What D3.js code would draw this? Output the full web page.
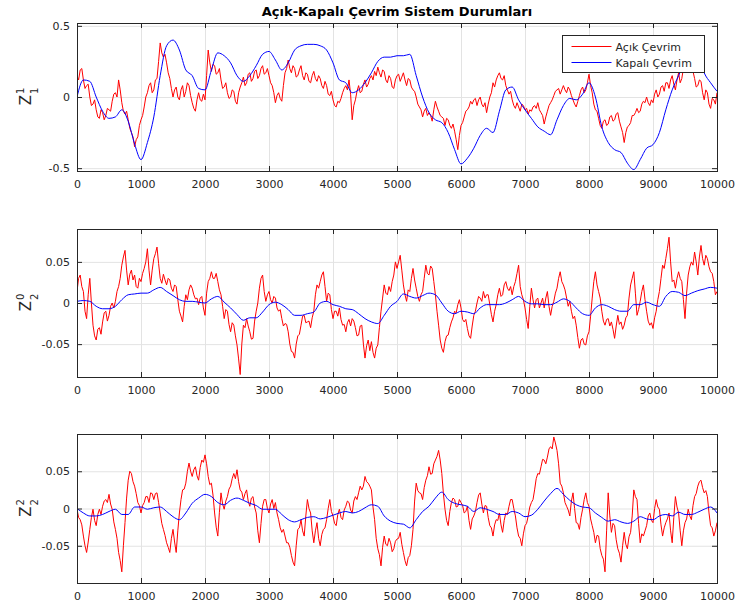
<!DOCTYPE html>
<html>
<head>
<meta charset="utf-8">
<script src="https://cdn.jsdelivr.net/npm/d3@7"></script>
<style>
  body { margin: 0; background: #fff; }
  svg text { font-family: "DejaVu Sans", sans-serif; fill: #262626; }
</style>
</head>
<body>
<div id="chart"></div>
<script>
// open loop: samples every 50 steps, plus the in-between readings (at +25)
const openStep = 50;
const closedStep = 100;

// Z_1^1
const z1Open = [
  0.15, 0.19, 0.12, 0.08, 0.0, -0.05, -0.09, -0.15, -0.11, -0.13,
  -0.09, -0.03, 0.03, 0.12, -0.04, -0.12, -0.16, -0.25, -0.35, -0.28,
  -0.16, -0.07, 0.03, 0.1, 0.05, 0.13, 0.38, 0.28, 0.24, 0.13,
  0.0, 0.07, -0.02, 0.08, 0.04, 0.08, -0.04, -0.1, 0.03, -0.03,
  -0.02, 0.33, 0.18, 0.22, 0.17, 0.12, 0.07, 0.03, 0.0, 0.04,
  -0.05, 0.07, 0.14, 0.1, 0.17, 0.13, 0.19, 0.15, 0.22, 0.17,
  0.15, 0.08, -0.04, 0.03, -0.03, 0.17, 0.26, 0.17, 0.2, 0.15,
  0.22, 0.12, 0.16, 0.1, 0.18, 0.11, 0.13, 0.06, 0.08, 0.01,
  -0.02, -0.07, -0.04, 0.03, 0.08, 0.12, -0.16, -0.02, 0.08, 0.04,
  0.12, 0.09, 0.15, 0.18, 0.21, 0.14, 0.18, 0.1, 0.13, 0.06,
  0.15, 0.11, 0.17, 0.08, 0.12, 0.05, 0.0, -0.07, -0.14, -0.08,
  -0.11, -0.17, -0.03, -0.1, -0.14, -0.2, -0.16, -0.22, -0.24, -0.37,
  -0.2, -0.14, -0.09, -0.03, -0.02, -0.06, 0.0, -0.07, -0.11, 0.0,
  0.1, 0.12, 0.17, 0.12, 0.08, 0.02, -0.02, -0.08, -0.07, -0.05,
  -0.09, -0.12, -0.1, -0.06, -0.04, -0.11, -0.19, -0.1, -0.04, 0.01,
  0.05, 0.02, 0.08, 0.03, 0.05, -0.02, -0.07, 0.01, 0.07, 0.05,
  0.16, 0.03, -0.09, -0.15, -0.22, -0.16, -0.19, -0.13, -0.16, -0.11,
  -0.21, -0.32, -0.21, -0.18, -0.13, -0.08, -0.1, -0.03, 0.0, -0.06,
  -0.04, 0.05, 0.02, 0.08, 0.1, 0.06, 0.15, 0.05, 0.17, 0.13,
  0.24, 0.3, 0.19, 0.13, 0.08, 0.11, -0.02, 0.03, -0.08, -0.02,
  0.03
];
const z1OpenMid = [
  0.12, 0.2, 0.06, 0.09, -0.06, -0.02, -0.14, -0.09, -0.16, -0.08,
  -0.1, 0.02, 0.0, 0.05, -0.1, -0.1, -0.22, -0.28, -0.3, -0.2,
  -0.13, 0.0, 0.08, 0.03, 0.12, 0.25, 0.31, 0.3, 0.17, 0.06,
  0.05, 0.0, 0.05, 0.0, 0.1, 0.01, -0.08, -0.02, -0.02, 0.02,
  0.15, 0.24, 0.23, 0.16, 0.2, 0.06, 0.1, -0.01, 0.05, -0.03,
  0.03, 0.1, 0.08, 0.16, 0.11, 0.18, 0.13, 0.2, 0.16, 0.2,
  0.1, 0.03, 0.01, -0.01, 0.08, 0.2, 0.2, 0.22, 0.14, 0.19,
  0.15, 0.17, 0.11, 0.15, 0.13, 0.15, 0.08, 0.11, 0.02, 0.04,
  -0.06, -0.03, -0.01, 0.06, 0.05, 0.02, -0.06, 0.04, 0.03, 0.09,
  0.07, 0.13, 0.12, 0.15, 0.17, 0.19, 0.12, 0.15, 0.07, 0.12,
  0.16, 0.14, 0.12, 0.13, 0.07, 0.04, -0.05, -0.09, -0.1, -0.13,
  -0.13, -0.09, -0.07, -0.13, -0.15, -0.15, -0.2, -0.19, -0.3, -0.27,
  -0.18, -0.1, -0.07, -0.05, -0.01, -0.02, -0.05, -0.04, -0.05, 0.03,
  0.07, 0.15, 0.13, 0.15, 0.05, 0.04, -0.06, -0.04, -0.1, -0.06,
  -0.08, -0.09, -0.07, -0.08, -0.09, -0.13, -0.14, -0.06, -0.02, 0.04,
  0.06, 0.05, 0.05, 0.07, 0.01, -0.05, -0.03, 0.05, 0.03, 0.1,
  0.08, -0.05, -0.1, -0.2, -0.17, -0.2, -0.14, -0.17, -0.12, -0.17,
  -0.25, -0.25, -0.2, -0.13, -0.11, -0.11, -0.05, -0.04, -0.04, -0.02,
  0.02, 0.0, 0.07, 0.04, 0.1, 0.12, 0.09, 0.12, 0.1, 0.2,
  0.27, 0.23, 0.18, 0.07, 0.12, 0.03, 0.05, -0.05, -0.01, -0.05
];
const z1Closed = [
  0.0, 0.12, 0.11, 0.0, -0.1, -0.15, -0.14, -0.09, -0.17, -0.33,
  -0.44, -0.32, -0.14, 0.15, 0.36, 0.4, 0.33, 0.19, 0.15, 0.06,
  0.05, 0.19, 0.31, 0.29, 0.24, 0.15, 0.11, 0.15, 0.22, 0.3,
  0.32, 0.26, 0.19, 0.24, 0.33, 0.36, 0.37, 0.37, 0.36, 0.33,
  0.24, 0.12, 0.1, 0.03, 0.05, 0.1, 0.17, 0.25, 0.28, 0.28,
  0.29, 0.29, 0.3, 0.15, 0.0, -0.11, -0.16, -0.18, -0.25, -0.37,
  -0.47, -0.43, -0.36, -0.27, -0.22, -0.25, -0.1, 0.05, 0.07, -0.02,
  -0.09, -0.15, -0.21, -0.24, -0.265, -0.16, -0.06, -0.01, -0.02, 0.02,
  0.1, 0.0, -0.21, -0.32, -0.37, -0.39, -0.465, -0.51, -0.44, -0.36,
  -0.335, -0.25, -0.09, 0.05, 0.15, 0.26, 0.36, 0.31, 0.17, 0.1,
  0.04
];

// Z_2^0
const z2Open = [
  0.014, 0.034, 0.014, -0.019, 0.03, -0.027, -0.045, -0.03, -0.023, -0.01,
  -0.015, 0.0, 0.002, 0.02, 0.046, 0.064, 0.022, 0.04, 0.034, 0.018,
  0.026, 0.042, 0.066, 0.022, 0.054, 0.068, 0.03, 0.035, 0.022, 0.028,
  0.014, 0.02, -0.01, -0.023, 0.01, 0.016, 0.018, 0.005, -0.002, 0.008,
  -0.015, 0.026, 0.038, 0.03, 0.026, 0.01, -0.019, -0.01, -0.035, -0.027,
  -0.051, -0.087, -0.027, -0.019, -0.035, -0.043, -0.01, 0.018, 0.034, 0.002,
  0.014, 0.0, 0.006, -0.01, -0.019, -0.025, -0.035, -0.059, -0.067, -0.04,
  -0.027, -0.015, -0.023, -0.03, -0.01, 0.022, 0.026, 0.038, 0.002, 0.01,
  -0.019, -0.01, -0.006, -0.027, -0.035, -0.02, -0.019, -0.03, -0.039, -0.027,
  -0.067, -0.045, -0.047, -0.067, -0.051, -0.01, 0.022, 0.01, 0.014, 0.034,
  0.042, 0.058, 0.022, 0.002, 0.014, 0.042, 0.018, 0.002, 0.014, 0.046,
  0.034, 0.042, 0.01, -0.027, -0.055, -0.047, -0.039, -0.023, -0.01, -0.002,
  -0.006, -0.023, -0.031, -0.043, -0.015, 0.0, 0.006, 0.014, 0.01, -0.002,
  -0.023, -0.002, 0.018, 0.01, 0.026, 0.015, 0.01, 0.026, 0.046, 0.01,
  -0.006, -0.031, 0.018, -0.006, 0.006, 0.0, -0.006, 0.014, -0.015, 0.002,
  0.018, 0.038, 0.022, 0.006, 0.002, -0.019, -0.027, -0.055, -0.043, -0.051,
  -0.035, 0.006, 0.038, 0.014, -0.01, -0.027, -0.019, -0.023, -0.043, -0.015,
  -0.023, -0.027, -0.015, 0.022, 0.038, -0.015, 0.002, 0.022, -0.01, -0.027,
  -0.031, -0.01, 0.014, 0.046, 0.054, 0.08, 0.026, 0.018, 0.038, 0.026,
  -0.019, 0.034, 0.05, 0.062, 0.034, 0.07, 0.046, 0.054, 0.038, 0.026,
  0.014
];
const z2OpenMid = [
  0.03, 0.02, -0.01, 0.01, 0.0, -0.04, -0.032, -0.038, -0.012, -0.022,
  -0.004, -0.006, 0.014, 0.03, 0.056, 0.04, 0.035, 0.028, 0.02, 0.03,
  0.036, 0.05, 0.04, 0.04, 0.06, 0.048, 0.024, 0.028, 0.03, 0.018,
  0.022, 0.004, -0.016, -0.004, 0.004, 0.022, 0.01, 0.006, 0.006, -0.006,
  0.012, 0.03, 0.03, 0.036, 0.016, -0.004, -0.008, -0.026, -0.024, -0.04,
  -0.068, -0.05, -0.03, -0.028, -0.044, -0.022, 0.0, 0.03, 0.014, 0.01,
  0.004, 0.008, -0.006, -0.008, -0.028, -0.026, -0.05, -0.06, -0.05, -0.038,
  -0.016, -0.024, -0.022, -0.018, 0.01, 0.018, 0.034, 0.02, 0.012, -0.008,
  -0.01, -0.016, -0.02, -0.026, -0.024, -0.028, -0.022, -0.04, -0.028, -0.05,
  -0.052, -0.058, -0.06, -0.055, -0.03, 0.006, 0.012, 0.02, 0.026, 0.05,
  0.05, 0.04, 0.01, 0.016, 0.03, 0.028, 0.008, 0.01, 0.03, 0.036,
  0.045, 0.026, -0.01, -0.045, -0.06, -0.04, -0.03, -0.018, -0.012, 0.004,
  -0.02, -0.02, -0.04, -0.028, -0.01, 0.008, 0.002, 0.006, 0.01, -0.014,
  -0.01, 0.01, 0.008, 0.022, 0.018, 0.02, 0.02, 0.036, 0.02, 0.004,
  -0.02, -0.004, 0.004, 0.004, -0.006, 0.006, 0.006, -0.004, -0.004, 0.012,
  0.03, 0.026, 0.016, -0.004, -0.01, -0.016, -0.042, -0.045, -0.05, -0.04,
  -0.016, 0.026, 0.022, 0.006, -0.022, -0.02, -0.028, -0.032, -0.028, -0.026,
  -0.032, -0.018, 0.006, 0.03, 0.012, -0.008, 0.014, 0.004, -0.022, -0.024,
  -0.018, 0.004, 0.03, 0.042, 0.066, 0.05, 0.028, 0.03, 0.03, 0.004,
  0.012, 0.044, 0.046, 0.05, 0.056, 0.054, 0.058, 0.044, 0.036, 0.01
];
const z2Closed = [
  0.002, 0.003, 0.002, -0.004, -0.007, -0.007, -0.004, 0.004, 0.01, 0.011,
  0.012, 0.012, 0.016, 0.019, 0.014, 0.009, 0.004, 0.002, 0.002, 0.001,
  0.0, 0.005, 0.008, 0.001, -0.006, -0.014, -0.021, -0.018, -0.018, -0.011,
  -0.002, 0.001, -0.002, -0.008, -0.015, -0.015, -0.013, -0.011, 0.0, 0.002,
  -0.002, -0.004, -0.007, -0.008, -0.013, -0.019, -0.023, -0.025, -0.015, -0.004,
  0.002, 0.011, 0.008, 0.006, 0.009, 0.012, 0.01, 0.0, -0.01, -0.013,
  -0.01, -0.011, -0.013, -0.006, -0.002, -0.002, -0.002, 0.0, 0.004, 0.008,
  0.002, -0.001, -0.001, -0.002, -0.002, 0.001, 0.005, 0.002, -0.006, -0.013,
  -0.015, -0.006, -0.002, -0.004, -0.008, -0.01, -0.01, -0.002, -0.002, 0.001,
  -0.002, -0.004, 0.008, 0.014, 0.013, 0.009, 0.012, 0.015, 0.017, 0.019,
  0.018
];

// Z_2^2
const z3Open = [
  -0.001, -0.015, -0.037, -0.059, -0.028, -0.001, -0.023, -0.001, 0.003, 0.012,
  0.019, -0.001, -0.028, -0.059, -0.085, -0.019, 0.038, 0.047, 0.03, 0.008,
  -0.006, 0.008, 0.016, 0.021, 0.012, 0.021, -0.006, -0.028, -0.046, -0.059,
  -0.028, -0.059, -0.006, 0.025, 0.034, 0.061, 0.043, 0.056, 0.038, 0.065,
  0.072, 0.043, 0.034, -0.006, -0.037, 0.021, -0.001, 0.016, 0.03, 0.047,
  0.052, 0.025, 0.012, 0.025, 0.003, 0.016, -0.006, -0.046, 0.003, 0.012,
  -0.006, 0.012, 0.008, -0.015, -0.032, -0.037, -0.046, -0.063, -0.077, -0.028,
  -0.015, -0.037, 0.012, -0.006, -0.046, -0.019, -0.05, -0.028, -0.015, 0.012,
  -0.01, -0.023, -0.001, -0.015, 0.003, 0.008, -0.006, 0.016, 0.021, 0.025,
  0.043, 0.034, 0.025, -0.015, -0.054, -0.077, -0.037, -0.05, -0.046, -0.054,
  -0.041, -0.032, -0.059, -0.077, -0.063, -0.028, 0.034, 0.021, 0.012, 0.038,
  0.056, 0.047, 0.065, 0.078, 0.047, -0.001, -0.023, 0.008, 0.012, 0.003,
  0.008, -0.006, 0.003, -0.028, -0.01, 0.008, 0.021, -0.006, 0.003, -0.023,
  -0.037, -0.015, -0.006, -0.032, -0.006, 0.003, 0.012, -0.01, -0.037, -0.05,
  -0.023, -0.01, 0.008, 0.025, 0.047, 0.056, 0.065, 0.069, 0.083, 0.096,
  0.078, 0.034, 0.021, 0.003, -0.01, 0.021, -0.019, -0.028, -0.001, 0.021,
  0.003, -0.023, -0.046, -0.037, -0.063, -0.085, 0.021, -0.032, -0.023, -0.054,
  -0.072, -0.032, -0.054, -0.032, 0.025, 0.012, -0.046, -0.037, -0.023, -0.006,
  -0.019, 0.012, -0.001, -0.037, -0.019, -0.006, -0.046, 0.016, -0.006, -0.05,
  -0.019, -0.001, -0.015, 0.016, 0.03, 0.038, 0.021, 0.016, -0.023, -0.037,
  -0.019
];
const z3OpenMid = [
  -0.012, -0.022, -0.05, -0.045, -0.012, -0.016, -0.008, -0.008, 0.01, 0.008,
  0.006, -0.018, -0.04, -0.07, -0.05, 0.014, 0.05, 0.036, 0.02, 0.004,
  0.004, 0.016, 0.008, 0.02, 0.02, 0.008, -0.02, -0.036, -0.052, -0.04,
  -0.045, -0.03, 0.012, 0.026, 0.05, 0.05, 0.052, 0.044, 0.055, 0.062,
  0.06, 0.032, 0.018, -0.025, -0.005, 0.006, 0.01, 0.026, 0.04, 0.04,
  0.036, 0.022, 0.02, 0.01, 0.014, 0.002, -0.03, -0.02, 0.012, 0.0,
  0.006, 0.0, -0.006, -0.026, -0.028, -0.046, -0.052, -0.072, -0.05, -0.026,
  -0.03, -0.01, 0.0, -0.03, -0.03, -0.04, -0.035, -0.026, 0.0, -0.004,
  -0.02, -0.008, -0.012, -0.002, 0.01, -0.002, 0.01, 0.012, 0.03, 0.03,
  0.036, 0.03, 0.002, -0.04, -0.062, -0.052, -0.048, -0.04, -0.058, -0.044,
  -0.04, -0.048, -0.07, -0.066, -0.05, 0.01, 0.024, 0.02, 0.028, 0.044,
  0.046, 0.06, 0.07, 0.065, 0.02, -0.016, -0.004, 0.014, 0.002, 0.012,
  0.004, -0.004, -0.016, -0.014, -0.004, 0.018, 0.006, 0.004, -0.012, -0.026,
  -0.022, -0.016, -0.022, -0.016, -0.008, 0.012, 0.0, -0.026, -0.04, -0.034,
  -0.02, 0.002, 0.012, 0.04, 0.046, 0.066, 0.06, 0.08, 0.08, 0.088,
  0.06, 0.03, 0.008, -0.002, 0.01, 0.0, -0.02, -0.012, 0.012, 0.008,
  -0.014, -0.032, -0.036, -0.054, -0.068, -0.03, -0.01, -0.02, -0.042, -0.06,
  -0.05, -0.048, -0.038, -0.01, 0.016, -0.02, -0.034, -0.03, -0.01, -0.016,
  0.0, 0.002, -0.022, -0.026, -0.014, -0.03, -0.012, 0.002, -0.03, -0.03,
  -0.014, -0.01, 0.004, 0.02, 0.036, 0.028, 0.024, -0.006, -0.026, -0.03
];
const z3Closed = [
  0.0, -0.006, -0.01, -0.01, -0.008, -0.004, -0.001, -0.008, -0.008, 0.002,
  0.002, -0.001, 0.001, 0.002, -0.004, -0.011, -0.015, -0.006, 0.007, 0.014,
  0.019, 0.016, 0.008, 0.005, 0.011, 0.014, 0.011, 0.007, 0.004, -0.001,
  -0.001, -0.001, -0.008, -0.015, -0.018, -0.015, -0.012, -0.011, -0.014, -0.012,
  -0.009, -0.006, -0.004, -0.006, -0.004, 0.001, 0.005, 0.003, -0.01, -0.017,
  -0.02, -0.021, -0.026, -0.015, -0.004, 0.003, 0.014, 0.022, 0.012, 0.007,
  0.005, 0.003, -0.004, 0.001, -0.001, -0.004, -0.008, -0.008, -0.004, -0.006,
  -0.011, -0.009, -0.001, 0.01, 0.02, 0.027, 0.019, 0.011, 0.005, 0.002,
  0.001, -0.006, -0.012, -0.017, -0.015, -0.018, -0.02, -0.017, -0.011, -0.014,
  -0.015, -0.01, -0.008, -0.01, -0.005, -0.008, -0.008, -0.005, -0.001, 0.002,
  -0.006
];

const xTicks = d3.range(0, 10001, 1000);
const seriesNames = ["Açık Çevrim", "Kapalı Çevrim"];
const seriesColors = ["#ff0000", "#0000ff"];
const titleText = "Açık-Kapalı Çevrim Sistem Durumları";

const panels = [
  { top: 23, bottom: 171, domain: [-0.52, 0.52], ticks: [-0.5, 0, 0.5], sup: "1", sub: "1", open: z1Open, mid: z1OpenMid, closed: z1Closed },
  { top: 229, bottom: 377, domain: [-0.09, 0.09], ticks: [-0.05, 0, 0.05], sup: "0", sub: "2", open: z2Open, mid: z2OpenMid, closed: z2Closed },
  { top: 434, bottom: 583, domain: [-0.1, 0.1], ticks: [-0.05, 0, 0.05], sup: "2", sub: "2", open: z3Open, mid: z3OpenMid, closed: z3Closed }
];

// merge the main samples with the in-between readings into [t, value] pairs
function openPoints(main, mid) {
  const pts = [];
  main.forEach((v, i) => {
    pts.push([i * openStep, v]);
    if (i < mid.length) pts.push([i * openStep + openStep / 2, mid[i]]);
  });
  return pts;
}

const W = 740, H = 612;
const left = 77, right = 717;

const svg = d3.select("#chart").append("svg")
  .attr("width", W).attr("height", H);

const x = d3.scaleLinear().domain([0, 10000]).range([left, right]);

svg.append("text")
  .attr("x", (left + right) / 2).attr("y", 16)
  .attr("text-anchor", "middle")
  .style("font-size", "13px").style("font-weight", "bold")
  .style("fill", "#000")
  .text(titleText);

panels.forEach((p, k) => {
  const y = d3.scaleLinear().domain(p.domain).range([p.bottom, p.top]);
  const g = svg.append("g");
  const h = p.bottom - p.top;

  // grid
  g.append("g").attr("transform", `translate(0,${p.bottom})`)
    .call(d3.axisBottom(x).tickValues(xTicks).tickSize(-h).tickFormat(""))
    .call(a => a.select(".domain").remove())
    .call(a => a.selectAll("line").attr("stroke", "#e3e3e3"));
  g.append("g").attr("transform", `translate(${left},0)`)
    .call(d3.axisLeft(y).tickValues(p.ticks).tickSize(-(right - left)).tickFormat(""))
    .call(a => a.select(".domain").remove())
    .call(a => a.selectAll("line").attr("stroke", "#e3e3e3"));

  // lines
  const clipId = "clip" + k;
  svg.append("clipPath").attr("id", clipId)
    .append("rect").attr("x", left).attr("y", p.top).attr("width", right - left).attr("height", h);

  const openLine = d3.line().x(d => x(d[0])).y(d => y(d[1]));
  const closedLine = d3.line().x((d, i) => x(i * closedStep)).y(d => y(d)).curve(d3.curveMonotoneX);

  g.append("path").datum(openPoints(p.open, p.mid))
    .attr("clip-path", `url(#${clipId})`)
    .attr("fill", "none").attr("stroke", seriesColors[0]).attr("stroke-width", 1)
    .attr("stroke-linejoin", "round")
    .attr("d", openLine);
  g.append("path").datum(p.closed)
    .attr("clip-path", `url(#${clipId})`)
    .attr("fill", "none").attr("stroke", seriesColors[1]).attr("stroke-width", 1)
    .attr("d", closedLine);

  // axes with inward ticks on every side
  const xb = g.append("g").attr("transform", `translate(0,${p.bottom})`)
    .call(d3.axisBottom(x).tickValues(xTicks).tickSize(0).tickPadding(9).tickFormat(d3.format("d")));
  xb.select(".domain").remove();
  xb.selectAll("text").style("font-size", "11px").attr("fill", "#262626");

  const yl = g.append("g").attr("transform", `translate(${left},0)`)
    .call(d3.axisLeft(y).tickValues(p.ticks).tickSize(0).tickPadding(7).tickFormat(d => String(d)));
  yl.select(".domain").remove();
  yl.selectAll("text").style("font-size", "11px").attr("fill", "#262626");

  const tickCol = "#262626";
  [[d3.axisBottom(x).tickValues(xTicks).tickSize(-5), `translate(0,${p.bottom})`],
   [d3.axisTop(x).tickValues(xTicks).tickSize(-5), `translate(0,${p.top})`],
   [d3.axisLeft(y).tickValues(p.ticks).tickSize(-5), `translate(${left},0)`],
   [d3.axisRight(y).tickValues(p.ticks).tickSize(-5), `translate(${right},0)`]
  ].forEach(([ax, tr]) => {
    const a = g.append("g").attr("transform", tr).call(ax.tickFormat(""));
    a.select(".domain").remove();
    a.selectAll("line").attr("stroke", tickCol);
  });

  g.append("rect")
    .attr("x", left + 0.5).attr("y", p.top + 0.5)
    .attr("width", right - left).attr("height", h)
    .attr("fill", "none").attr("stroke", tickCol).attr("stroke-width", 1);

  // y label Z with superscript and subscript
  const mid = (p.top + p.bottom) / 2 + 3;
  const lab = g.append("g").attr("transform", `translate(31,${mid}) rotate(-90)`);
  lab.append("text").attr("x", 0).attr("y", 0).attr("text-anchor", "middle")
    .style("font-size", "15px").text("Z");
  lab.append("text").attr("x", 6).attr("y", -7)
    .style("font-size", "10px").text(p.sup);
  lab.append("text").attr("x", 6).attr("y", 7)
    .style("font-size", "10px").text(p.sub);
});

// legend in the first panel
const lg = svg.append("g").attr("transform", "translate(562.5,35.5)");
lg.append("rect").attr("width", 142).attr("height", 37)
  .attr("fill", "#fff").attr("stroke", "#262626").attr("stroke-width", 1);
seriesNames.forEach((name, i) => {
  const yy = 11 + i * 16;
  lg.append("line").attr("x1", 9).attr("x2", 49).attr("y1", yy).attr("y2", yy)
    .attr("stroke", seriesColors[i]).attr("stroke-width", 1);
  lg.append("text").attr("x", 53).attr("y", yy + 4)
    .style("font-size", "11px").attr("fill", "#000").text(name);
});
</script>
</body>
</html>
